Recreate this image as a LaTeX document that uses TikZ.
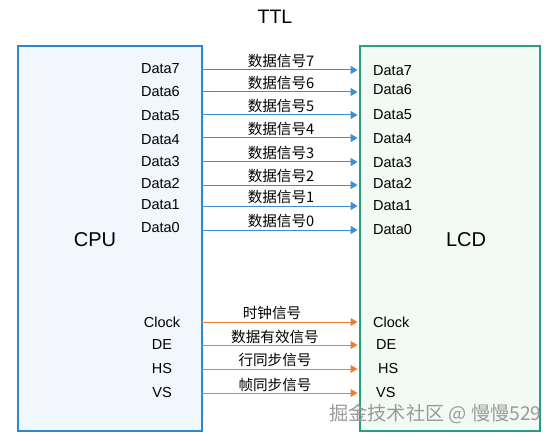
\documentclass[tikz,border=0pt]{standalone}
\usepackage{fontspec}
\setmainfont{Liberation Sans}
\newfontfamily\cjk{Noto Sans CJK SC}
\usetikzlibrary{arrows.meta}
\definecolor{cpuborder}{HTML}{2E86CF}
\definecolor{cpufill}{HTML}{F1F8FD}
\definecolor{lcdborder}{HTML}{2A9D84}
\definecolor{lcdfill}{HTML}{F2FAF4}
\definecolor{bluearrow}{HTML}{3A8FD6}
\definecolor{orangearrow}{HTML}{ED7D31}
\definecolor{wmgray}{HTML}{9A9A9A}
\begin{document}
\begin{tikzpicture}[x=1pt,y=-1pt,
  pinlbl/.style={inner sep=0pt,font=\fontsize{14.5}{14.5}\selectfont},
  siglbl/.style={inner sep=0pt,font=\fontsize{14.6}{14.6}\selectfont\cjk},
  bigtxt/.style={inner sep=0pt,font=\fontsize{20}{20}\selectfont},
  dataarrow/.style={draw=bluearrow,line width=1pt,-{Triangle[length=7pt,width=8pt]}},
  ctrlarrow/.style={draw=orangearrow,line width=1pt,-{Triangle[length=7pt,width=8pt]}},
]
\useasboundingbox (0,0) rectangle (557,441);
\fill[white] (0,0) rectangle (557,441);
% boxes
\node[draw=cpuborder,fill=cpufill,line width=2pt,minimum width=184pt,minimum height=385pt,inner sep=0pt,anchor=north west] (cpu) at (17,45) {};
\node[draw=lcdborder,fill=lcdfill,line width=2pt,minimum width=180pt,minimum height=385pt,inner sep=0pt,anchor=north west] (lcd) at (359,45) {};
\node[bigtxt] (cputxt) at (95,240) {CPU};
\node[bigtxt] (lcdtxt) at (466,240) {LCD};
\node[bigtxt,font=\fontsize{19.5}{19.5}\selectfont] (ttl) at (275,17) {TTL};
% data lines
\foreach \i/\yl/\yc/\yr in {7/70/69/71, 6/92/92/90, 5/115/116/115, 4/138/140/139, 3/162/162/163, 2/185/184/184, 1/206/205/206, 0/230/228/230}{
  \node[pinlbl,anchor=east] (cd\i) at (180,\yc) {Data\i};
  \node[pinlbl,anchor=west] (ld\i) at (373,\yr) {Data\i};
  \coordinate (cs\i) at (201,\yl);
  \coordinate (le\i) at (357.5,\yl);
  \draw[dataarrow] (cs\i) -- (le\i);
  \node[siglbl] (sd\i) at (281,\yl-9) {数据信号\i};
}
% control lines
\foreach \n/\t/\s/\yl/\xr in {ck/Clock/时钟信号/322/373, de/DE/数据有效信号/345/376, hs/HS/行同步信号/369/378, vs/VS/帧同步信号/393/376}{
  \node[pinlbl] (c\n) at (162,\yl) {\t};
  \node[pinlbl,anchor=west] (l\n) at (\xr,\yl) {\t};
  \coordinate (cs\n) at (201,\yl);
  \coordinate (le\n) at (357.5,\yl);
  \draw[ctrlarrow] (cs\n) -- (le\n);
}
\node[siglbl] (sck) at (272,313) {时钟信号};
\node[siglbl] (sde) at (275,337) {数据有效信号};
\node[siglbl] (shs) at (275,360) {行同步信号};
\node[siglbl] (svs) at (275,385) {帧同步信号};
% watermark
\node[inner sep=0pt,anchor=west,text=wmgray,font=\fontsize{19.2}{19.2}\selectfont\cjk] (wm) at (329,414) {掘金技术社区 @ 慢慢529};
\end{tikzpicture}
\end{document}
